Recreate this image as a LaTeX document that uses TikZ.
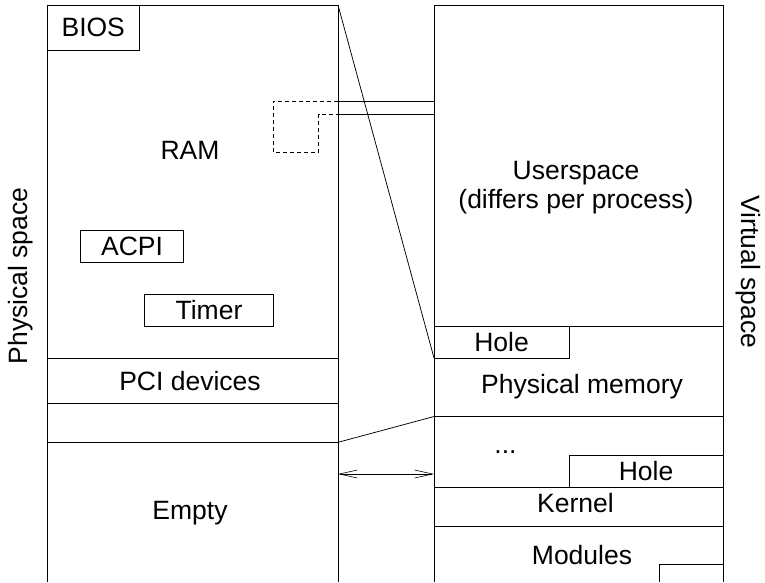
\documentclass[tikz,border=0pt]{standalone}
\usepackage{fontspec}
\setmainfont{Liberation Sans}
\usetikzlibrary{arrows.meta, positioning, calc}

\begin{document}
\begin{tikzpicture}[x=1pt, y=-1pt, line width=0.75pt,
    every node/.style={font=\fontsize{26.5}{29}\selectfont, inner sep=0pt, outer sep=0pt},
    membox/.style={draw, rectangle, anchor=north west},
    gap/.style={dash pattern=on 4pt off 3pt}]
    \useasboundingbox (0,0) rectangle (765,582);

    % physical column
    \coordinate (ptl) at (47.5,5);
    \coordinate (ptr) at (338,5);
    \draw (47.5,582) -- (ptl) -- (ptr) -- (338,582);
    \coordinate (pci) at (338,358.7);
    \coordinate (pcib) at (338,403.3);
    \coordinate (emp) at (338,442.3);
    \draw (47.5,358.7) -- (pci);
    \draw (47.5,403.3) -- (pcib);
    \draw (47.5,442.3) -- (emp);

    \node[membox, minimum width=91.5, minimum height=45] (bios) at (47.5,5) {BIOS};
    \node[membox, minimum width=103.4, minimum height=32.3] (acpi) at (80.3,230) {ACPI};
    \node[membox, minimum width=128.6, minimum height=32.4] (timer) at (144.7,294.3) {Timer};
    \node[anchor=base] (ram) at (190,159) {RAM};
    \node (pcidev) at (190,381) {PCI devices};
    \node[anchor=base] (empty) at (190,519) {Empty};

    % virtual column
    \coordinate (vtl) at (434,5);
    \coordinate (vtr) at (723,5);
    \draw (434,582) -- (vtl) -- (vtr) -- (723,582);
    \coordinate (vpm) at (434,416.5);
    \draw (434,326) -- (723,326);
    \draw (vpm) -- (723,416.5);
    \draw (434,487) -- (723,487);
    \draw (434,526) -- (723,526);

    \node[align=center] (user) at (576,188) {Userspace\\(differs per process)};
    \node[membox, minimum width=135, minimum height=32] (hole) at (434,326) {Hole};
    \node[anchor=base] (physmem) at (582,393) {Physical memory};
    \node[anchor=base] (dots) at (505.5,453) {...};
    \node[membox, minimum width=154, minimum height=32] (hole2) at (569,455) {Hole};
    \node[anchor=base] (kernel) at (575.5,512.7) {Kernel};
    \node[anchor=base] (mods) at (582,564) {Modules};
    \coordinate (modbox) at (659,564);
    \draw (659,582) -- (modbox) -- (723,564);

    % mapping
    \draw (ptr) -- (hole.south west);
    \draw (emp) -- (vpm);
    \coordinate (lnka) at (338,101);
    \coordinate (lnkb) at (338,114);
    \draw[gap] (lnka) -| (273.3,152.3) -| (318.7,114) -- (lnkb);
    \draw (lnka) -- (434,101);
    \draw (lnkb) -- (434,114);
    \draw[{Straight Barb[length=18pt,width=8pt]}-{Straight Barb[length=18pt,width=8pt]}, line width=0.6pt] (338,474) -- (434,474);

    \node[rotate=90] (physlbl) at (21,276) {Physical space};
    \node[rotate=-90] (virtlbl) at (748,272) {Virtual space};
\end{tikzpicture}
\end{document}
